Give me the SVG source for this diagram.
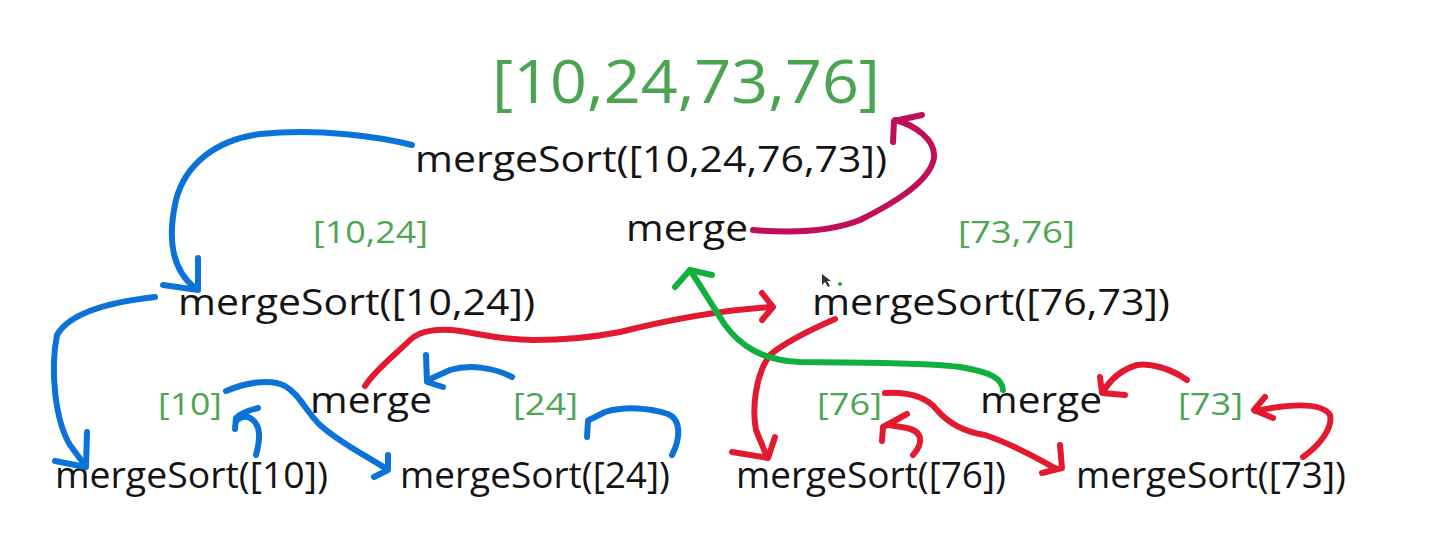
<svg xmlns="http://www.w3.org/2000/svg" width="1431" height="548" viewBox="0 0 1431 548">
<style>
text{font-family:"Open Sans","Liberation Sans",sans-serif;}
.k{fill:#141414;font-size:36px;}
.g{fill:#4ea653;font-size:31px;}
.big{fill:#4aa450;font-size:60px;}
.s{fill:none;stroke-width:6;stroke-linecap:round;stroke-linejoin:round;}
.b{stroke:#0b73d8;}
.r{stroke:#e3192f;}
.m{stroke:#bf0f5a;}
.gr{stroke:#10b03e;}
</style>
<rect width="1431" height="548" fill="#ffffff"/>
<g id="result"><text class="big" x="492" y="103" textLength="388" lengthAdjust="spacingAndGlyphs">[10,24,73,76]</text></g>
<g id="ms-root"><text class="k" x="415" y="172" textLength="472" lengthAdjust="spacingAndGlyphs">mergeSort([10,24,76,73])</text></g>
<g id="res-left"><text class="g" x="313" y="243" textLength="115" lengthAdjust="spacingAndGlyphs">[10,24]</text></g>
<g id="merge-top"><text class="k" x="626" y="241" textLength="122" lengthAdjust="spacingAndGlyphs">merge</text></g>
<g id="res-right"><text class="g" x="958" y="243" textLength="117" lengthAdjust="spacingAndGlyphs">[73,76]</text></g>
<g id="ms-left"><text class="k" x="178" y="315" textLength="357" lengthAdjust="spacingAndGlyphs">mergeSort([10,24])</text></g>
<g id="ms-right"><text class="k" x="812" y="315" textLength="358" lengthAdjust="spacingAndGlyphs">mergeSort([76,73])</text></g>
<g id="res-10"><text class="g" x="158" y="415" textLength="64" lengthAdjust="spacingAndGlyphs">[10]</text></g>
<g id="merge-left"><text class="k" x="310" y="413" textLength="122" lengthAdjust="spacingAndGlyphs">merge</text></g>
<g id="res-24"><text class="g" x="513" y="415" textLength="65" lengthAdjust="spacingAndGlyphs">[24]</text></g>
<g id="res-76"><text class="g" x="817" y="415" textLength="65" lengthAdjust="spacingAndGlyphs">[76]</text></g>
<g id="merge-right"><text class="k" x="980" y="413" textLength="122" lengthAdjust="spacingAndGlyphs">merge</text></g>
<g id="res-73"><text class="g" x="1178" y="415" textLength="65" lengthAdjust="spacingAndGlyphs">[73]</text></g>
<g id="ms-10"><text class="k" x="55" y="488" textLength="273" lengthAdjust="spacingAndGlyphs">mergeSort([10])</text></g>
<g id="ms-24"><text class="k" x="400" y="488" textLength="270" lengthAdjust="spacingAndGlyphs">mergeSort([24])</text></g>
<g id="ms-76"><text class="k" x="736" y="488" textLength="270" lengthAdjust="spacingAndGlyphs">mergeSort([76])</text></g>
<g id="ms-73"><text class="k" x="1076" y="488" textLength="270" lengthAdjust="spacingAndGlyphs">mergeSort([73])</text></g>
<g id="connectors">
<path class="s b" d="M412,145 C380,137 320,128 260,134 C215,140 185,165 176,200 C168,235 170,268 195,288"/>
<path class="s b" d="M198,258 L198,290 L163,285"/>
<path class="s b" d="M155,297 C110,302 70,312 57,335 C50,370 55,420 70,445 L84,464"/>
<path class="s b" d="M87,432 L86,467 L55,461"/>
<path class="s b" d="M226,391 C245,383 270,378 285,386 C300,395 305,410 320,425 C340,443 365,455 385,468"/>
<path class="s b" d="M388,455 L388,470 L374,477"/>
<path class="s b" d="M256,455 C260,440 262,425 250,418 C244,415 240,418 237,420"/>
<path class="s b" d="M235,429 L236,418 C240,413 250,410 258,408"/>
<path class="s b" d="M512,377 C495,368 470,364 450,370 L428,380"/>
<path class="s b" d="M426,355 L427,382 L443,387"/>
<path class="s b" d="M672,455 C680,440 682,420 668,414 C650,408 625,406 605,412 L589,420"/>
<path class="s b" d="M587,437 L588,421"/>
<path class="s r" d="M365,386 C375,370 395,355 410,340 C420,330 440,328 460,331 C480,334 500,340 533,340 C570,340 600,336 620,332 C660,322 720,310 772,307"/>
<path class="s r" d="M762,293 L773,307 L762,320"/>
<path class="s r" d="M835,319 C810,330 785,342 770,355 C755,375 752,410 756,430 L767,457"/>
<path class="s r" d="M732,452 L768,458 L775,437"/>
<path class="s r" d="M885,393 C905,392 925,395 937,410 C950,425 965,432 985,435 C1015,445 1040,460 1055,468"/>
<path class="s r" d="M1060,445 L1062,468 L1042,473"/>
<path class="s r" d="M913,455 C922,445 925,432 907,428 L889,425"/>
<path class="s r" d="M882,441 L883,427 L907,414"/>
<path class="s r" d="M1187,380 C1170,368 1150,363 1137,365 C1120,370 1110,380 1103,392"/>
<path class="s r" d="M1100,377 L1102,393 L1125,395"/>
<path class="s r" d="M1303,457 C1320,445 1333,428 1330,415 C1322,403 1295,403 1255,411"/>
<path class="s r" d="M1265,397 L1254,410 L1273,418"/>
<path class="s m" d="M753,230 C790,233 830,232 860,220 C900,200 930,180 934,158 C936,140 915,125 895,120"/>
<path class="s m" d="M893,142 L894,121 L922,115"/>
<path class="s gr" d="M1003,390 C1002,378 990,372 960,367 C920,362 860,363 800,362 C760,360 740,345 725,325 C712,305 700,285 690,270"/>
<path class="s gr" d="M675,287 L690,270 L712,275"/>
</g>
<polygon points="822,274 822,285 825,282 828,287 830,286 827,281 831,281" fill="#333"/>
<circle cx="840" cy="284" r="2" fill="#10b03e"/>
</svg>
